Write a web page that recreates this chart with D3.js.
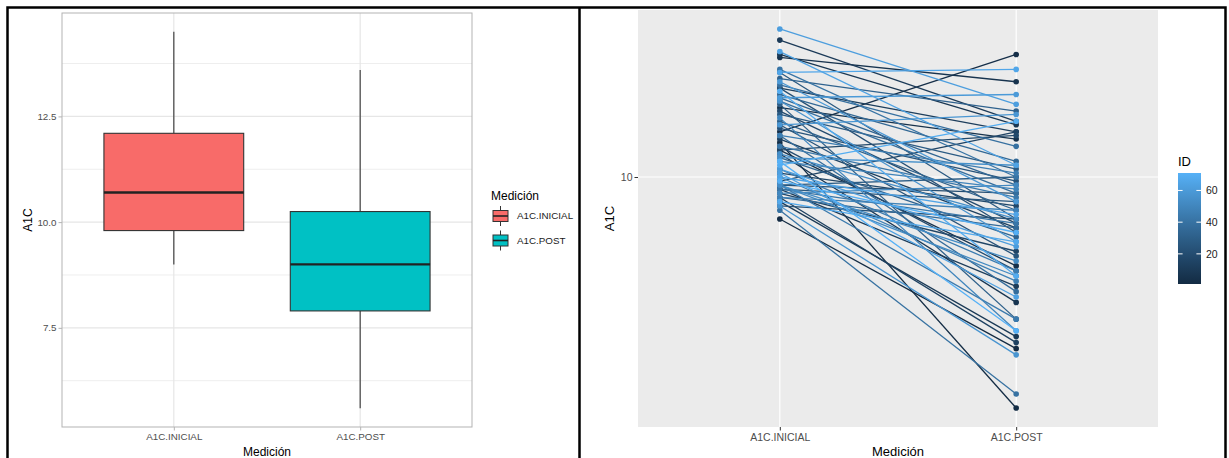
<!DOCTYPE html>
<html>
<head>
<meta charset="utf-8">
<script src="https://cdn.jsdelivr.net/npm/d3@7"></script>
<style>
  body { margin: 0; background: #fff; }
  svg { display: block; }
  text { font-family: "Liberation Sans", Arial, Helvetica, sans-serif; }
</style>
</head>
<body>
<svg id="chart" width="1229" height="458"></svg>
<script>
// ---- data -------------------------------------------------------------
const medicion = ["A1C.INICIAL", "A1C.POST"];

const ids = [
   1,  2,  3,  4,  5,  6,  7,  8,  9, 10, 11, 12, 13, 14, 15, 16, 17, 18,
  19, 20, 21, 22, 23, 24, 25, 26, 27, 28, 29, 30, 31, 32, 33, 34, 35, 36,
  37, 38, 39, 40, 41, 42, 43, 44, 45, 46, 47, 48, 49, 50, 51, 52, 53, 54,
  55, 56, 57, 58, 59, 60, 61, 62, 63, 64, 65, 66, 67, 68, 69, 70, 71
];

const a1cInicial = [
   9.0, 10.9, 11.2, 10.7, 11.9, 13.5, 10.6, 13.6,  9.4, 14.1,  9.7, 12.5,
  11.0,  9.5,  9.9,  9.6, 10.1, 10.7, 11.8, 10.8,  9.8, 12.5,  9.3, 11.3,
  11.4,  9.7, 13.0, 11.7,  9.8, 12.0, 11.5, 12.8, 10.5, 12.2, 12.3,  9.5,
  11.1, 12.1, 12.6,  9.2, 13.1,  9.7, 10.8,  9.8, 10.2, 11.1, 10.0,  9.5,
  10.4, 11.6,  9.6,  9.8,  9.8, 10.6, 10.5, 12.1,  9.3, 11.4, 12.7, 12.2,
  10.2, 14.5, 10.1, 13.7, 10.0, 13.0,  9.4, 12.4, 10.3,  9.9, 10.4
];

const a1cPost = [
   6.5,  5.6, 13.6,  8.0, 11.0, 12.7,  7.3, 11.4,  6.7, 11.5,  7.6, 11.2,
   8.8,  6.6, 11.2,  8.3,  9.3, 11.1,  8.9,  7.9,  9.6,  8.7,  9.0,  9.9,
   8.2,  9.4,  9.0, 10.2, 10.0,  7.0,  9.2, 11.8,  8.6,  9.8, 10.4,  8.8,
   7.5,  9.6, 10.8,  5.8, 10.0,  8.9,  9.5,  7.0,  7.9, 10.1,  7.7,  9.2,
   9.7,  6.8,  9.8,  7.8,  8.1,  9.0, 10.3,  8.5,  6.4, 11.7,  9.4, 12.3,
   8.4, 12.0,  7.4, 10.3,  9.1, 13.1,  8.5,  7.8, 11.5,  8.7,  6.8
];

const boxTicks = [7.5, 10, 12.5];
const boxMinorTicks = [6.25, 8.75, 11.25, 13.75];
const logTicks = [10];
const idTicks = [20, 40, 60];

const fillColors = ["#F86B69", "#00C1C4"];
const idLow = "#132B43", idHigh = "#56B1F7";

// ---- layout -----------------------------------------------------------
const svg = d3.select("#chart");
const FONT_AXIS = "#4D4D4D";

// outer frame around the two figures
svg.append("path")
  .attr("d", "M7.5,458 V7.5 H1225.5 V458 M579.5,7.5 V458")
  .attr("fill", "none").attr("stroke", "#000").attr("stroke-width", 2.5);

const allVals = a1cInicial.concat(a1cPost);
const [vmin, vmax] = d3.extent(allVals);

// ======================= left: boxplot ===============================
const L = { x0: 62, x1: 472, y0: 13, y1: 427 };
const xL = d3.scalePoint().domain(medicion).range([L.x0, L.x1]).padding(0.6);
const padL = (vmax - vmin) * 0.05;
const yL = d3.scaleLinear().domain([vmin - padL, vmax + padL]).range([L.y1, L.y0]);

const gL = svg.append("g");
gL.append("rect").attr("x", L.x0).attr("y", L.y0)
  .attr("width", L.x1 - L.x0).attr("height", L.y1 - L.y0).attr("fill", "#fff");

gL.selectAll(".minor").data(boxMinorTicks).join("line")
  .attr("x1", L.x0).attr("x2", L.x1)
  .attr("y1", d => yL(d)).attr("y2", d => yL(d))
  .attr("stroke", "#EEEEEE").attr("stroke-width", 1);
gL.selectAll(".major").data(boxTicks).join("line")
  .attr("x1", L.x0).attr("x2", L.x1)
  .attr("y1", d => yL(d)).attr("y2", d => yL(d))
  .attr("stroke", "#E6E6E6").attr("stroke-width", 1.2);
gL.selectAll(".vmajor").data(medicion).join("line")
  .attr("x1", d => xL(d)).attr("x2", d => xL(d))
  .attr("y1", L.y0).attr("y2", L.y1)
  .attr("stroke", "#E6E6E6").attr("stroke-width", 1.2);

function boxStats(vals) {
  const s = vals.slice().sort(d3.ascending);
  const q1 = d3.quantileSorted(s, 0.25);
  const med = d3.quantileSorted(s, 0.5);
  const q3 = d3.quantileSorted(s, 0.75);
  const iqr = q3 - q1;
  const lo = d3.min(s.filter(v => v >= q1 - 1.5 * iqr));
  const hi = d3.max(s.filter(v => v <= q3 + 1.5 * iqr));
  return { q1, med, q3, lo, hi };
}
const boxes = [a1cInicial, a1cPost].map((v, i) => ({ key: medicion[i], fill: fillColors[i], ...boxStats(v) }));
const boxW = xL.step() * 0.75;

const bx = gL.selectAll(".box").data(boxes).join("g");
bx.append("line")
  .attr("x1", d => xL(d.key)).attr("x2", d => xL(d.key))
  .attr("y1", d => yL(d.hi)).attr("y2", d => yL(d.q3))
  .attr("stroke", "#444").attr("stroke-width", 1.2);
bx.append("line")
  .attr("x1", d => xL(d.key)).attr("x2", d => xL(d.key))
  .attr("y1", d => yL(d.q1)).attr("y2", d => yL(d.lo))
  .attr("stroke", "#444").attr("stroke-width", 1.2);
bx.append("rect")
  .attr("x", d => xL(d.key) - boxW / 2).attr("width", boxW)
  .attr("y", d => yL(d.q3)).attr("height", d => yL(d.q1) - yL(d.q3))
  .attr("fill", d => d.fill).attr("stroke", "#333").attr("stroke-width", 1.1);
bx.append("line")
  .attr("x1", d => xL(d.key) - boxW / 2).attr("x2", d => xL(d.key) + boxW / 2)
  .attr("y1", d => yL(d.med)).attr("y2", d => yL(d.med))
  .attr("stroke", "#222").attr("stroke-width", 2.3);

gL.append("rect").attr("x", L.x0).attr("y", L.y0)
  .attr("width", L.x1 - L.x0).attr("height", L.y1 - L.y0)
  .attr("fill", "none").attr("stroke", "#B3B3B3").attr("stroke-width", 1);

// axes
const axL = gL.append("g").attr("transform", `translate(${L.x0},0)`)
  .call(d3.axisLeft(yL).tickValues(boxTicks).tickFormat(d3.format(".1f")).tickSize(3.5).tickPadding(2));
const axB = gL.append("g").attr("transform", `translate(0,${L.y1})`)
  .call(d3.axisBottom(xL).tickSize(3.5).tickPadding(3));
[axL, axB].forEach(a => {
  a.select(".domain").remove();
  a.selectAll(".tick line").attr("stroke", "#B3B3B3");
  a.selectAll(".tick text").attr("fill", FONT_AXIS).attr("font-size", 9.8)
    .attr("font-family", '"Liberation Sans", Arial, sans-serif');
});

gL.append("text").attr("x", (L.x0 + L.x1) / 2).attr("y", 455.5)
  .attr("text-anchor", "middle").attr("font-size", 12).text("Medición");
gL.append("text").attr("transform", `translate(32,${(L.y0 + L.y1) / 2}) rotate(-90)`)
  .attr("text-anchor", "middle").attr("font-size", 12).text("A1C");

// legend
const lg = svg.append("g").attr("transform", "translate(491,0)");
lg.append("text").attr("x", 0).attr("y", 200).attr("font-size", 12).text("Medición");
const keys = lg.selectAll(".key").data(boxes).join("g")
  .attr("transform", (d, i) => `translate(2,${206 + i * 24.5})`);
keys.append("line").attr("x1", 7.5).attr("x2", 7.5).attr("y1", 0).attr("y2", 20)
  .attr("stroke", "#333").attr("stroke-width", 1);
keys.append("rect").attr("x", 0).attr("y", 4.5).attr("width", 15).attr("height", 11)
  .attr("fill", d => d.fill).attr("stroke", "#333").attr("stroke-width", 1);
keys.append("line").attr("x1", 0).attr("x2", 15).attr("y1", 10).attr("y2", 10)
  .attr("stroke", "#222").attr("stroke-width", 1.6);
keys.append("text").attr("x", 24).attr("y", 10).attr("dy", "0.35em")
  .attr("font-size", 9.8).attr("fill", "#1A1A1A").text(d => d.key);

// ======================= right: paired lines =========================
const R = { x0: 638, x1: 1158, y0: 10, y1: 427 };
const xR = d3.scalePoint().domain(medicion).range([R.x0, R.x1]).padding(0.6);
const lmin = Math.log10(vmin), lmax = Math.log10(vmax), padR = (lmax - lmin) * 0.05;
const yR = d3.scaleLog().domain([10 ** (lmin - padR), 10 ** (lmax + padR)]).range([R.y1, R.y0]);
const idColor = d3.scaleLinear().domain(d3.extent(ids)).range([idLow, idHigh]).interpolate(d3.interpolateLab);

const gR = svg.append("g");
gR.append("rect").attr("x", R.x0).attr("y", R.y0)
  .attr("width", R.x1 - R.x0).attr("height", R.y1 - R.y0).attr("fill", "#EBEBEB");
gR.selectAll(".hg").data(logTicks).join("line")
  .attr("x1", R.x0).attr("x2", R.x1)
  .attr("y1", d => yR(d)).attr("y2", d => yR(d))
  .attr("stroke", "#fff").attr("stroke-width", 1.2);
gR.selectAll(".vg").data(medicion).join("line")
  .attr("x1", d => xR(d)).attr("x2", d => xR(d))
  .attr("y1", R.y0).attr("y2", R.y1)
  .attr("stroke", "#fff").attr("stroke-width", 1.2);

const pairs = ids.map((id, i) => ({ id, values: [a1cInicial[i], a1cPost[i]] }));
const line = d3.line().x((d, j) => xR(medicion[j])).y(d => yR(d));
gR.selectAll(".pair").data(pairs).join("path")
  .attr("d", d => line(d.values))
  .attr("fill", "none").attr("stroke", d => idColor(d.id)).attr("stroke-width", 1.3);

const pts = pairs.flatMap(p => p.values.map((v, j) => ({ id: p.id, m: medicion[j], v })));
gR.selectAll(".pt").data(pts).join("circle")
  .attr("cx", d => xR(d.m)).attr("cy", d => yR(d.v)).attr("r", 2.8)
  .attr("fill", d => idColor(d.id));

const axR = gR.append("g").attr("transform", `translate(${R.x0},0)`)
  .call(d3.axisLeft(yR).tickValues(logTicks).tickFormat(d3.format("d")).tickSize(3.5).tickPadding(2));
const axRB = gR.append("g").attr("transform", `translate(0,${R.y1})`)
  .call(d3.axisBottom(xR).tickSize(3.5).tickPadding(3));
[axR, axRB].forEach(a => {
  a.select(".domain").remove();
  a.selectAll(".tick line").attr("stroke", "#333");
  a.selectAll(".tick text").attr("fill", FONT_AXIS).attr("font-size", 10.5)
    .attr("font-family", '"Liberation Sans", Arial, sans-serif');
});

gR.append("text").attr("x", (R.x0 + R.x1) / 2).attr("y", 455.5)
  .attr("text-anchor", "middle").attr("font-size", 13).text("Medición");
gR.append("text").attr("transform", `translate(614,${(R.y0 + R.y1) / 2}) rotate(-90)`)
  .attr("text-anchor", "middle").attr("font-size", 13).text("A1C");

// colour bar
const cb = { x: 1178, w: 23, top: 173, bottom: 284 };
const yId = d3.scaleLinear().domain(d3.extent(ids)).range([cb.bottom, cb.top]);
const grad = svg.append("defs").append("linearGradient").attr("id", "idgrad")
  .attr("x1", 0).attr("x2", 0).attr("y1", 1).attr("y2", 0);
grad.selectAll("stop").data(d3.range(0, 1.0001, 0.1)).join("stop")
  .attr("offset", d => d)
  .attr("stop-color", d => idColor(yId.domain()[0] + d * (yId.domain()[1] - yId.domain()[0])));
svg.append("rect").attr("x", cb.x).attr("y", cb.top).attr("width", cb.w)
  .attr("height", cb.bottom - cb.top).attr("fill", "url(#idgrad)");
const cbt = svg.append("g");
cbt.selectAll(".tl").data(idTicks).join("line")
  .attr("x1", cb.x).attr("x2", cb.x + cb.w / 5)
  .attr("y1", d => yId(d)).attr("y2", d => yId(d)).attr("stroke", "#fff").attr("stroke-width", 1);
cbt.selectAll(".tr").data(idTicks).join("line")
  .attr("x1", cb.x + cb.w * 4 / 5).attr("x2", cb.x + cb.w)
  .attr("y1", d => yId(d)).attr("y2", d => yId(d)).attr("stroke", "#fff").attr("stroke-width", 1);
cbt.selectAll("text").data(idTicks).join("text")
  .attr("x", cb.x + cb.w + 5).attr("y", d => yId(d)).attr("dy", "0.35em")
  .attr("font-size", 10.5).attr("fill", "#1A1A1A").text(d => d);
svg.append("text").attr("x", cb.x).attr("y", 165.5).attr("font-size", 13).text("ID");
</script>
</body>
</html>
